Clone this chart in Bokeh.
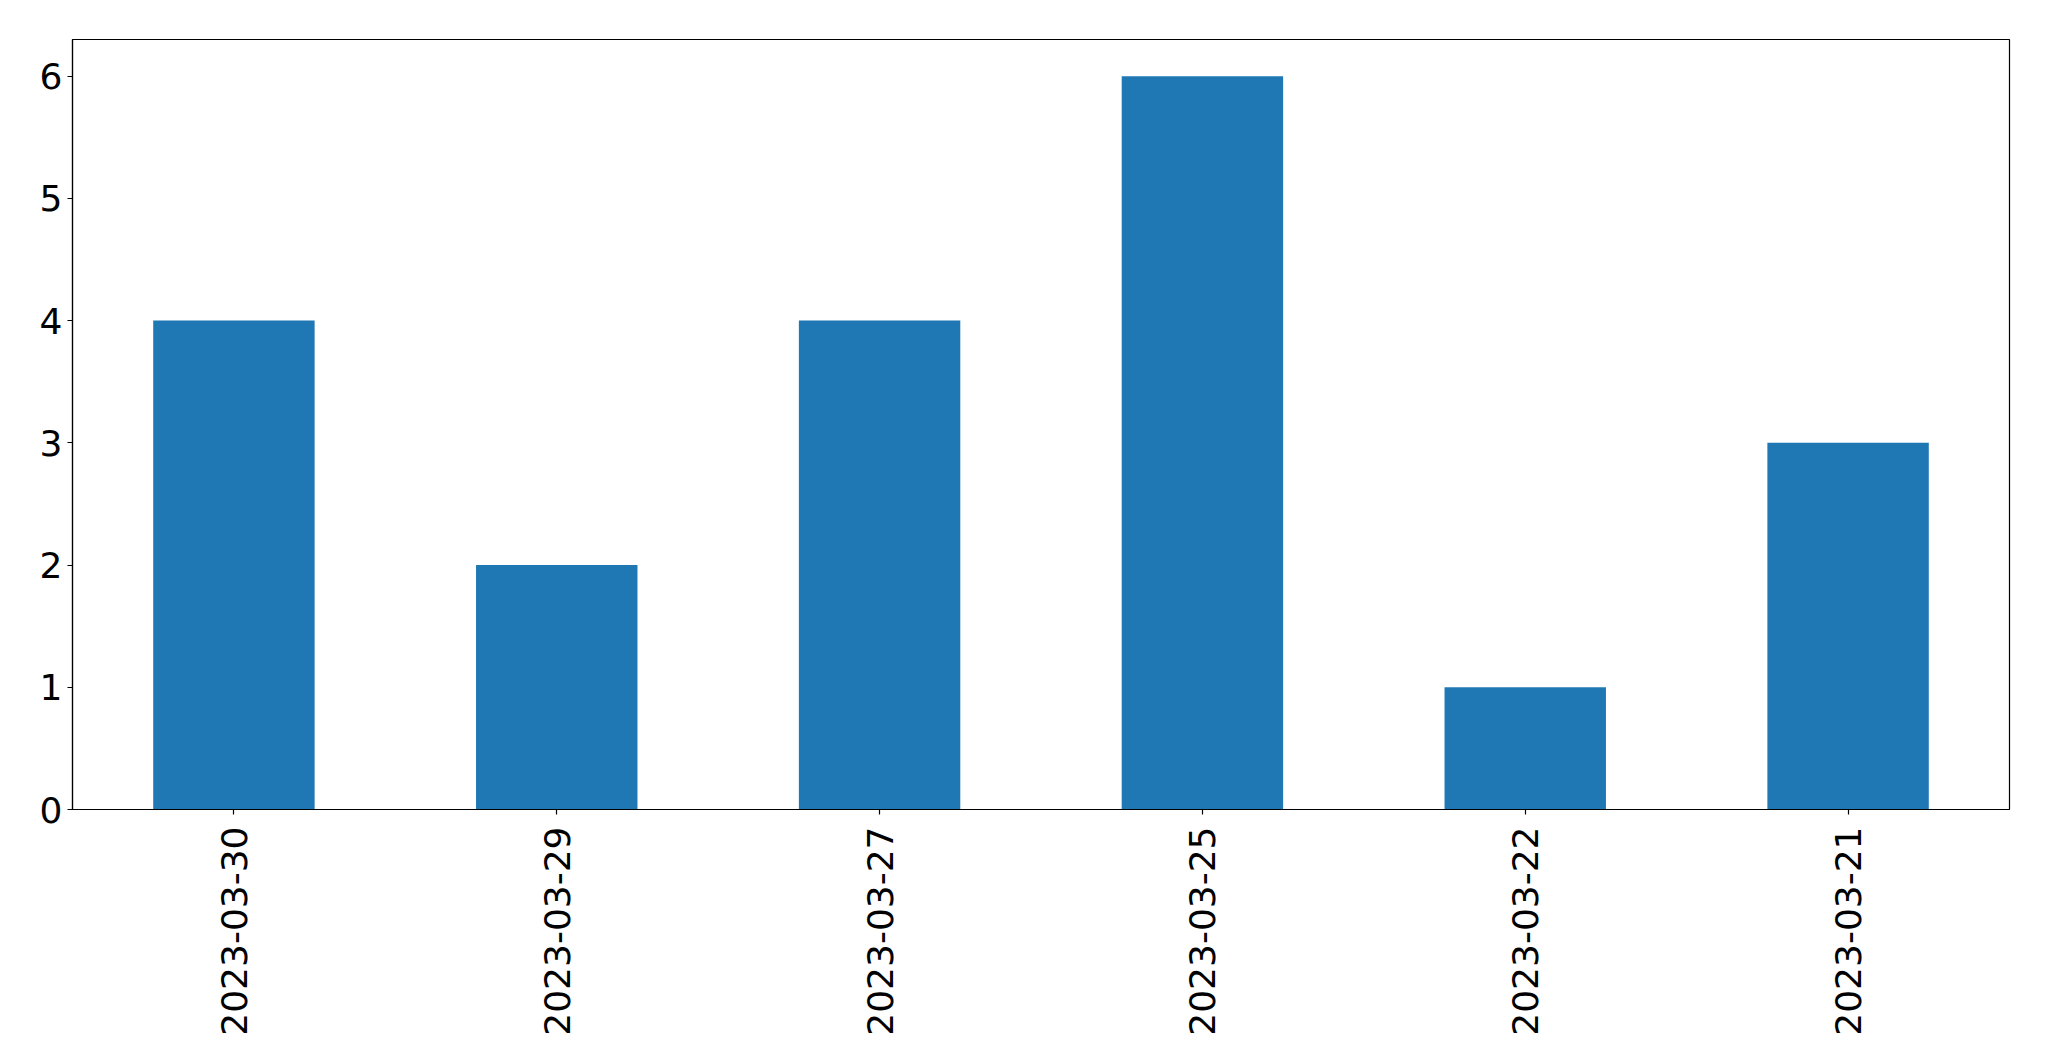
import math
from bokeh.plotting import figure
from bokeh.models import Range1d, FixedTicker, FactorRange
from bokeh.embed import file_html
from bokeh.resources import INLINE

dates = ["2023-03-30", "2023-03-29", "2023-03-27", "2023-03-25", "2023-03-22", "2023-03-21"]
counts = [4, 2, 4, 6, 1, 3]
y_ticks = [0, 1, 2, 3, 4, 5, 6]

FONT = "DejaVu Sans"
FS = "36px"

p = figure(
    x_range=FactorRange(*dates, range_padding=0),
    y_range=Range1d(0, 6.3),
    frame_width=1937, frame_height=770,
    min_border_left=72, min_border_right=32, min_border_top=39, min_border_bottom=236,
    output_backend="svg", toolbar_location=None,
)
p.vbar(x=dates, top=counts, width=0.5, color="#1f77b4", line_color=None)

p.xgrid.visible = False
p.ygrid.visible = False
p.outline_line_color = "black"
p.outline_line_width = 1.2
p.background_fill_color = "white"
p.border_fill_color = "white"

p.yaxis.ticker = FixedTicker(ticks=y_ticks)
for ax in (p.xaxis[0], p.yaxis[0]):
    ax.axis_line_color = "black"
    ax.axis_line_width = 1.2
    ax.major_tick_out = 5
    ax.major_tick_in = 0
    ax.major_tick_line_color = "black"
    ax.major_tick_line_width = 1.2
    ax.minor_tick_line_color = None
    ax.major_label_text_font = FONT
    ax.major_label_text_font_size = FS
    ax.major_label_text_color = "black"

p.xaxis.major_label_orientation = math.pi / 2
p.xaxis.major_label_standoff = 12
p.yaxis.major_label_standoff = 5

open("out.html", "w").write(file_html(p, INLINE))
